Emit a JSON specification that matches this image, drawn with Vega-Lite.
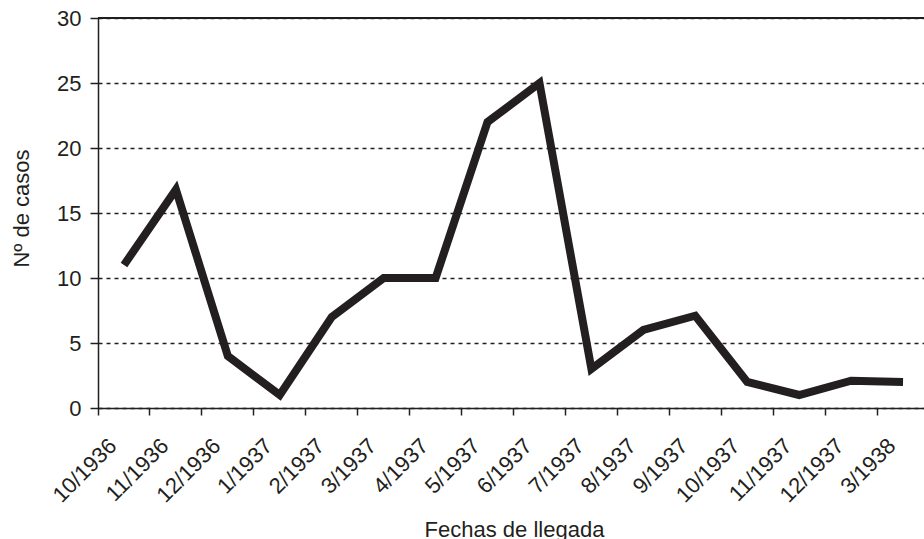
{
  "$schema": "https://vega.github.io/schema/vega-lite/v6.json",
  "autosize": "none",
  "width": 826,
  "height": 390,
  "padding": {"left": 98, "top": 18, "right": 0, "bottom": 131},
  "background": "white",
  "config": {
    "view": {"stroke": null},
    "font": "Liberation Sans",
    "axis": {
      "labelFont": "Liberation Sans",
      "titleFont": "Liberation Sans",
      "labelColor": "#231f20",
      "titleColor": "#231f20",
      "domainColor": "#231f20",
      "tickColor": "#231f20",
      "domainWidth": 1.5,
      "tickWidth": 1.5,
      "labelFontSize": 22,
      "titleFontSize": 22,
      "titleFontWeight": "normal"
    }
  },
  "data": {
    "values": [
      {"fecha": "10/1936", "casos": 11},
      {"fecha": "11/1936", "casos": 16.8},
      {"fecha": "12/1936", "casos": 4},
      {"fecha": "1/1937", "casos": 1},
      {"fecha": "2/1937", "casos": 7},
      {"fecha": "3/1937", "casos": 10},
      {"fecha": "4/1937", "casos": 10},
      {"fecha": "5/1937", "casos": 22},
      {"fecha": "6/1937", "casos": 25},
      {"fecha": "7/1937", "casos": 3},
      {"fecha": "8/1937", "casos": 6},
      {"fecha": "9/1937", "casos": 7.1},
      {"fecha": "10/1937", "casos": 2},
      {"fecha": "11/1937", "casos": 1},
      {"fecha": "12/1937", "casos": 2.1},
      {"fecha": "3/1938", "casos": 2}
    ]
  },
  "layer": [
    {
      "mark": {"type": "line", "color": "#231f20", "strokeWidth": 8, "strokeJoin": "miter"},
      "encoding": {
        "x": {
          "field": "fecha",
          "type": "ordinal",
          "sort": null,
          "scale": {"type": "band", "range": [0, 831], "paddingInner": 0, "paddingOuter": 0},
          "axis": {
            "title": "Fechas de llegada",
            "bandPosition": 0,
            "labelAngle": -45,
            "labelAlign": "right",
            "labelBaseline": "middle",
            "labelOffset": -11,
            "labelPadding": 27,
            "tickSize": 7,
            "grid": false,
            "titleY": 128,
            "titleBaseline": "alphabetic",
            "titleX": 416
          }
        },
        "y": {
          "field": "casos",
          "type": "quantitative",
          "scale": {"domain": [0, 30], "nice": false},
          "axis": {
            "title": "Nº de casos",
            "values": [0, 5, 10, 15, 20, 25, 30],
            "tickSize": 8,
            "labelPadding": 9,
            "grid": true,
            "gridDash": [4, 4],
            "gridColor": "#231f20",
            "gridWidth": 1.5,
            "titleAngle": -90,
            "titleX": -70,
            "titleY": 190,
            "titleAlign": "center",
            "titleBaseline": "alphabetic"
          }
        }
      }
    },
    {
      "mark": {"type": "rule", "color": "#231f20", "strokeWidth": 1.5},
      "encoding": {"y": {"datum": 30}}
    }
  ]
}
